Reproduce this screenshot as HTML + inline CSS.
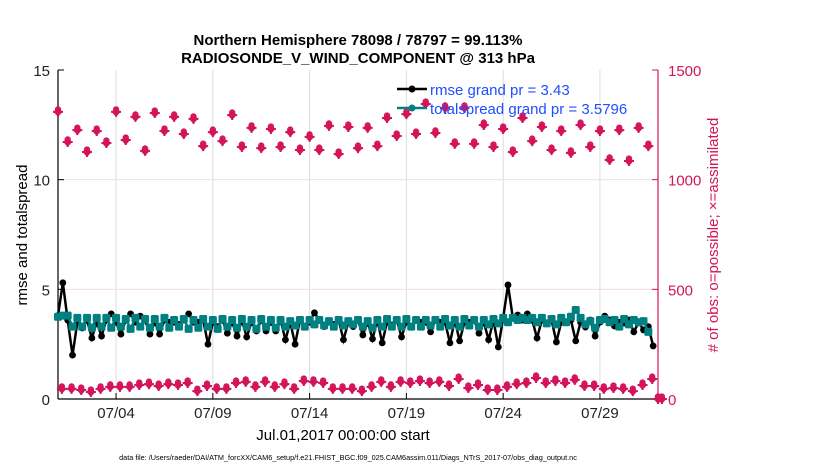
<!DOCTYPE html>
<html><head><meta charset="utf-8">
<style>
body{margin:0;background:#fff;}
svg{display:block;font-family:"Liberation Sans",sans-serif;}
</style></head>
<body>
<svg id="chart" width="830" height="470" viewBox="0 0 830 470" xmlns="http://www.w3.org/2000/svg">
<g id="grid"></g>
<g id="axes"></g>
<g id="marks"></g>
<text x="358" y="45" text-anchor="middle" font-size="15" font-weight="bold">Northern Hemisphere 78098 / 78797 = 99.113%</text>
<text x="358" y="63" text-anchor="middle" font-size="15" font-weight="bold">RADIOSONDE_V_WIND_COMPONENT @ 313 hPa</text>
<text transform="translate(27,235) rotate(-90)" text-anchor="middle" font-size="15">rmse and totalspread</text>
<text transform="translate(718,235) rotate(-90)" text-anchor="middle" font-size="15" fill="#d4145a"># of obs: o=possible; ×=assimilated</text>
<text x="343" y="440" text-anchor="middle" font-size="15">Jul.01,2017 00:00:00 start</text>
<text x="348" y="460" text-anchor="middle" font-size="7.3">data file: /Users/raeder/DAI/ATM_forcXX/CAM6_setup/f.e21.FHIST_BGC.f09_025.CAM6assim.011/Diags_NTrS_2017-07/obs_diag_output.nc</text>
<g>
<line x1="397" y1="89" x2="427" y2="89" stroke="#000" stroke-width="2.5"/>
<circle cx="412" cy="89" r="3.5" fill="#000"/>
<text x="430" y="95" font-size="15" fill="#1f4fff">rmse grand pr = 3.43</text>
<line x1="397" y1="108" x2="427" y2="108" stroke="#008080" stroke-width="2.5"/>
<circle cx="412" cy="108" r="3.5" fill="#008080"/>
<text x="430" y="114" font-size="15" fill="#1f4fff">totalspread grand pr = 3.5796</text>
</g>
</svg>
<script>
const xTicks = [3, 8, 13, 18, 23, 28];
const xTickLabels = ["07/04", "07/09", "07/14", "07/19", "07/24", "07/29"];
const yLeftTicks = [0, 5, 10, 15];
const yRightTicks = [0, 500, 1000, 1500];
const rmse = [3.8,5.3,3.6,2.0,3.5,3.24,3.6,2.78,3.5,2.87,3.6,3.88,3.5,2.96,3.6,3.88,3.5,3.78,3.6,2.96,3.5,2.96,3.6,3.5,3.5,3.4,3.6,3.88,3.5,3.5,3.6,2.5,
  3.5,3.3,3.6,3.0,3.5,2.87,3.6,2.83,3.5,3.1,3.6,3.1,3.5,3.1,3.6,2.7,3.5,2.5,3.6,3.28,3.5,3.93,3.6,3.3,3.5,3.4,3.6,2.7,3.5,3.3,3.6,
  2.92,3.5,2.74,3.6,2.56,3.5,3.37,3.6,2.83,3.5,3.28,3.6,3.5,3.5,3.06,3.6,3.5,3.5,2.56,3.6,2.65,3.5,3.5,3.6,3.0,3.5,2.7,3.6,2.37,
  3.7,5.2,3.7,3.83,3.6,3.88,3.6,2.78,3.6,3.46,3.6,2.6,3.5,3.5,3.6,2.65,3.5,3.28,3.6,2.87,3.5,3.78,3.6,3.33,3.5,3.46,3.6,3.06,3.5,3.15,3.3,2.42];
const spread = [3.75,3.8,3.8,3.3,3.7,3.3,3.7,3.25,3.7,3.3,3.7,3.25,3.7,3.3,3.65,3.2,3.7,3.3,3.65,3.25,3.65,3.3,3.7,3.25,3.6,3.3,3.65,3.2,3.6,3.25,3.65,3.3,3.6,
  3.2,3.65,3.3,3.6,3.25,3.65,3.3,3.6,3.2,3.65,3.3,3.6,3.25,3.6,3.3,3.55,3.35,3.6,3.3,3.6,3.4,3.6,3.35,3.55,3.3,3.6,3.35,3.55,3.4,3.6,3.3,3.55,
  3.25,3.6,3.3,3.65,3.3,3.6,3.3,3.65,3.3,3.6,3.3,3.6,3.35,3.6,3.3,3.65,3.35,3.6,3.3,3.65,3.35,3.6,3.3,3.6,3.4,3.65,3.45,3.7,3.5,3.7,3.6,3.7,
  3.6,3.7,3.5,3.7,3.45,3.65,3.4,3.7,3.5,3.75,4.06,3.7,3.4,3.55,3.25,3.6,3.65,3.5,3.6,3.3,3.65,3.4,3.6,3.5,3.55,3.06];
const obsUpper = [1309,1172,1226,1126,1222,1167,1309,1181,1286,1131,1304,1222,1286,1208,1277,1153,1217,1176,1295,1149,1236,1144,1231,1149,1217,1135,1195,1135,1245,1117,1240,1144,
  1236,1153,1281,1199,1299,1208,1345,1213,1327,1163,1327,1163,1249,1149,1231,1126,1281,1176,1240,1135,1222,1122,1249,1149,1222,1090,1226,1085,1236,1153,0];
const obsLower = [46,46,41,32,46,55,55,55,64,68,59,68,64,73,36,59,46,46,73,78,55,78,55,68,46,82,78,73,46,46,46,
  36,55,78,55,78,73,82,73,78,59,91,50,64,41,41,55,68,73,96,73,82,73,87,59,59,46,50,46,36,64,91,0];

const NS='http://www.w3.org/2000/svg';
const X0=58,X1=658,Y0=399,Y1=70,DAYS=31;
const xs=d=>X0+(d/DAYS)*(X1-X0);
const yL=v=>Y0-(v/15)*(Y0-Y1);
const yR=v=>Y0-(v/1500)*(Y0-Y1);
function mk(tag,attrs,parent){const e=document.createElementNS(NS,tag);for(const k in attrs)e.setAttribute(k,attrs[k]);parent.appendChild(e);return e;}
const grid=document.getElementById('grid'),axes=document.getElementById('axes'),marks=document.getElementById('marks');
const PINK='#d4145a';

xTicks.forEach((d,i)=>{
  const g=mk('line',{x1:xs(d),x2:xs(d),y1:Y1,y2:Y0,stroke:'#dcdcdc','stroke-width':1},grid);
  
  
  const t=mk('line',{x1:xs(d),x2:xs(d),y1:Y0,y2:Y0-6,stroke:'#000'},axes);
  
  
  const l=mk('text',{x:xs(d),y:Y0+19,'text-anchor':'middle','font-size':15,fill:'#222'},axes);
  l.textContent=xTickLabels[i];
  
  
});
yRightTicks.forEach(v=>{
  if(v>0&&v<1500){const g=mk('line',{x1:X0,x2:X1,y1:yR(v),y2:yR(v),stroke:'#f2dce4','stroke-width':1},grid);
  
  }
  const t=mk('line',{x1:X1,x2:X1-6,y1:yR(v),y2:yR(v),stroke:PINK},axes);
  
  
  const l=mk('text',{x:X1+10,y:yR(v)+6,'font-size':15,fill:PINK},axes);
  l.textContent=v;
  
  
});
yLeftTicks.forEach(v=>{
  const t=mk('line',{x1:X0,x2:X0+6,y1:yL(v),y2:yL(v),stroke:'#000'},axes);
  
  
  const l=mk('text',{x:X0-8,y:yL(v)+6,'text-anchor':'end','font-size':15,fill:'#222'},axes);
  l.textContent=v;
  
  
});
const la=mk('line',{x1:X0,x2:X0,y1:Y1,y2:Y0,stroke:'#000','stroke-width':1.2},axes);


const ra=mk('line',{x1:X1,x2:X1,y1:Y1,y2:Y0,stroke:PINK,'stroke-width':1.2},axes);


const ba=mk('line',{x1:X0,x2:X1,y1:Y0,y2:Y0,stroke:'#000','stroke-width':1.2},axes);



function obsMarker(d,v,name){
  const g=mk('g',{},marks);
  
  
  const x=xs(d),y=yR(v);
  mk('circle',{cx:x,cy:y-2.5,r:2.4,fill:'none',stroke:PINK,'stroke-width':1.5},g);
  mk('path',{d:`M${x} ${y-5}L${x+4.5} ${y}L${x} ${y+5}L${x-4.5} ${y}Z`,fill:PINK},g);
  mk('path',{d:`M${x-5} ${y}H${x+5}M${x} ${y-5}V${y+5}`,stroke:PINK,'stroke-width':2},g);
}
obsUpper.forEach((v,i)=>obsMarker(i*0.5,v,'obs-count-upper-point'));
obsLower.forEach((v,i)=>obsMarker(i*0.5+0.2,v,'obs-count-lower-point'));

function series(arr,color,name,r,square){
  const p=mk('polyline',{points:arr.map((v,i)=>xs(i*0.25)+','+yL(v)).join(' '),fill:'none',stroke:color,'stroke-width':2.5},marks);
  
  
  arr.forEach((v,i)=>{
    const c=square?mk('rect',{x:xs(i*0.25)-r,y:yL(v)-r,width:2*r,height:2*r,rx:1.5,fill:color},marks)
                  :mk('circle',{cx:xs(i*0.25),cy:yL(v),r:r,fill:color},marks);
    
    
  });
}
series(rmse,'#000','rmse',3.4,false);
series(spread,'#008080','totalspread',4.0,true);
</script>
</body></html>
